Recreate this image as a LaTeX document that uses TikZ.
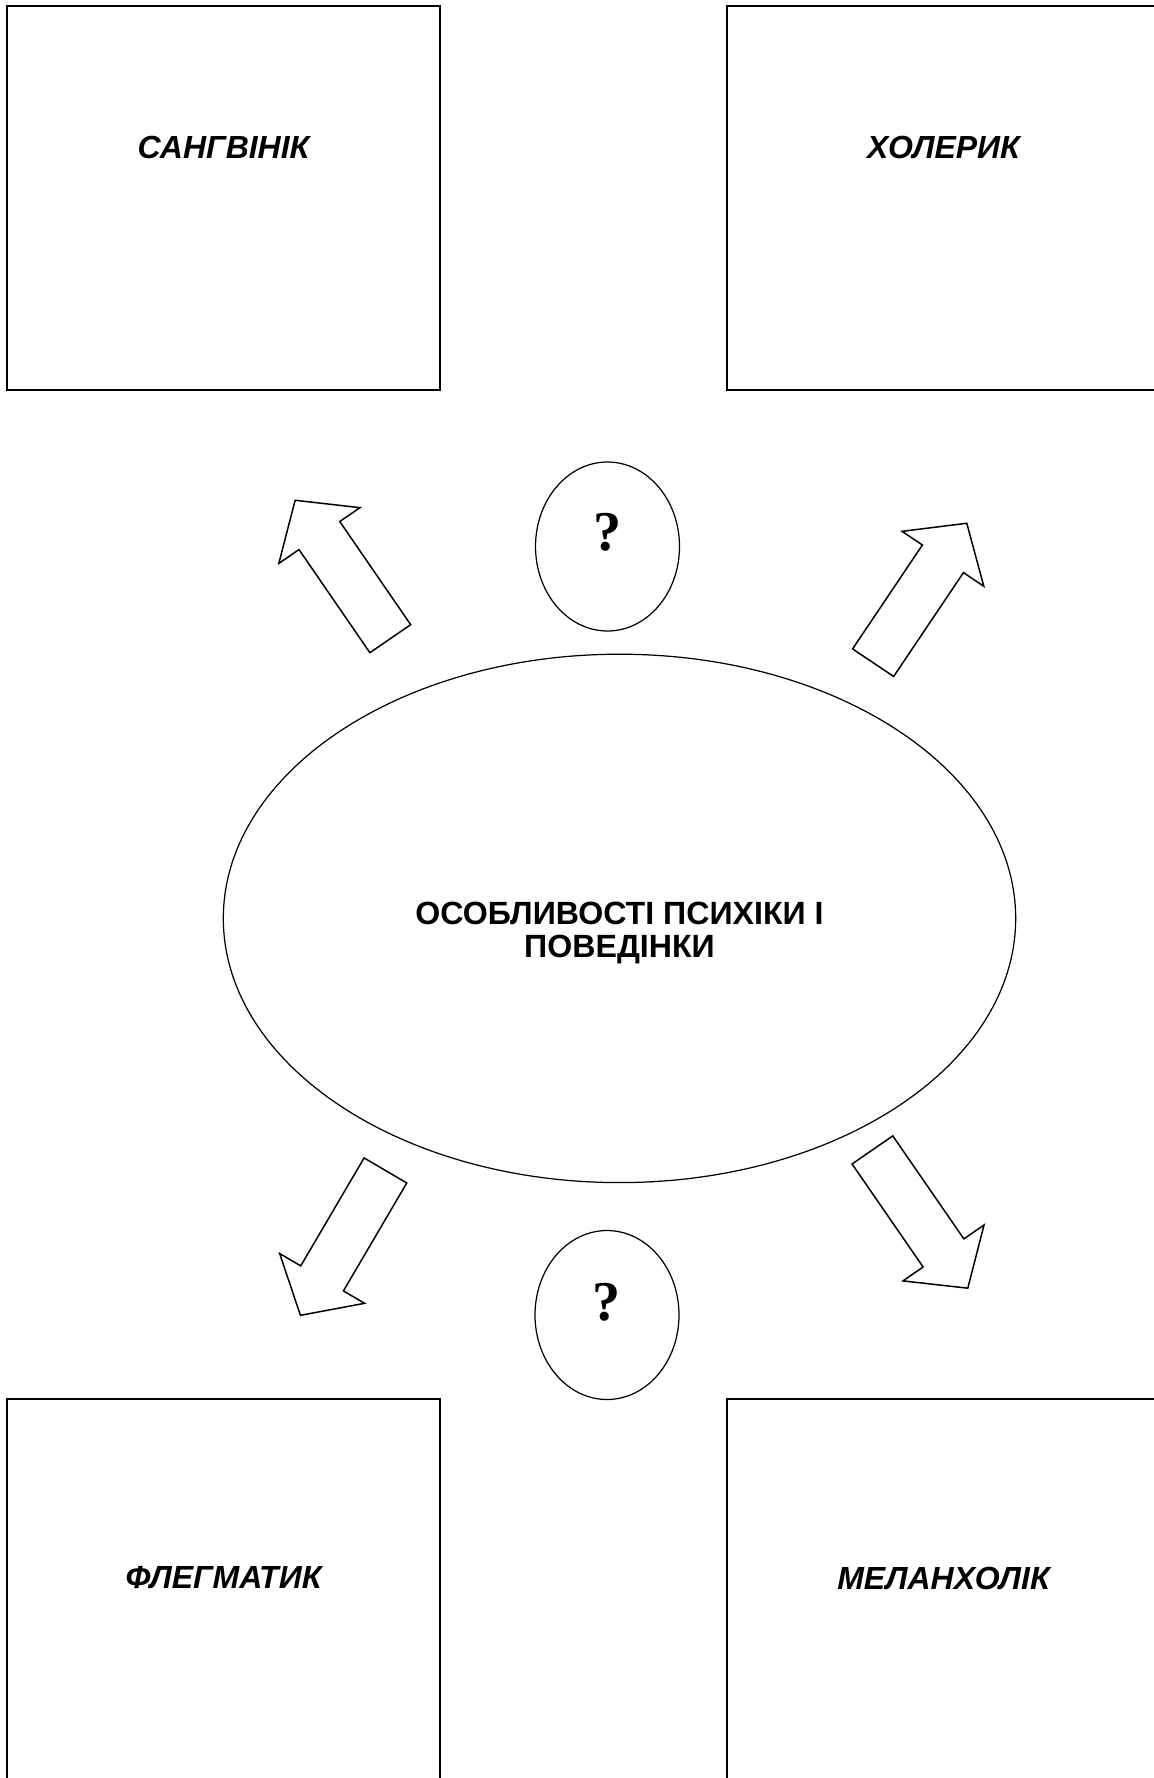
\documentclass[tikz,border=0pt]{standalone}
\usepackage{fontspec}
\setmainfont{Liberation Sans}
\newfontfamily\qfont{Liberation Serif}
\usetikzlibrary{shapes.geometric,shapes.arrows}

\begin{document}
\begin{tikzpicture}[x=0.02cm, y=-0.02cm, line width=0.7pt,
   typebox/.style={draw, rectangle, minimum width=8.66cm, minimum height=7.68cm, inner sep=0pt},
   lbl/.style={font=\fontsize{18.2}{19}\selectfont\bfseries\itshape, inner sep=0pt},
   core/.style={draw, ellipse, minimum width=15.85cm, minimum height=10.57cm, inner sep=0pt},
   coretxt/.style={font=\fontsize{18.3}{19}\selectfont\bfseries, align=center, inner sep=0pt},
   ask/.style={draw, ellipse, minimum width=2.88cm, minimum height=3.38cm, inner sep=0pt},
   qmark/.style={font=\qfont\bfseries\fontsize{32}{32}\selectfont, inner sep=0pt},
   bigarrow/.style={draw, line width=0.85pt, single arrow, single arrow head extend=0.49cm,
             single arrow tip angle=98, single arrow head indent=0pt,
             inner xsep=0pt, inner ysep=0.48cm, minimum height=3.36cm, anchor=tail}]

  \useasboundingbox (0,0) rectangle (1153,1778);

  % ===== Типи темпераменту =====
  \node[typebox] (sang) at (223.5,198) {};
  \node[lbl] at (223.5,147) {САНГВІНІК};
  \node[typebox] (chol) at (943.5,198) {};
  \node[lbl] at (943.5,147) {ХОЛЕРИК};
  \node[typebox] (phleg) at (223.5,1591) {};
  \node[lbl] at (223.5,1578) {ФЛЕГМАТИК};
  \node[typebox] (melan) at (943.5,1591) {};
  \node[lbl] at (943.5,1578) {МЕЛАНХОЛІК};

  % ===== Центр =====
  \node[core] (core) at (619.5,918.4) {};
  \node[coretxt] at (619.5,933) {ОСОБЛИВОСТІ ПСИХІКИ І\\ПОВЕДІНКИ};

  % питання
  \node[ask] (asktop) at (607.5,546.5) {};
  \node[qmark] at (607.5,532.5) {?};
  \node[ask] (askbot) at (607,1315) {};
  \node[qmark] at (607,1302.5) {?};

  % ===== Стрілки =====
  \node[bigarrow, rotate=124.5] (arrsang) at (390.7,639.3) {};
  \node[bigarrow, rotate=56.1] (arrchol) at (872.7,663.3) {};
  \node[bigarrow, rotate=-120.4] (arrphleg) at (385.8,1169.8) {};
  \node[bigarrow, rotate=-55.4] (arrmelan) at (872,1149.3) {};

\end{tikzpicture}
\end{document}
